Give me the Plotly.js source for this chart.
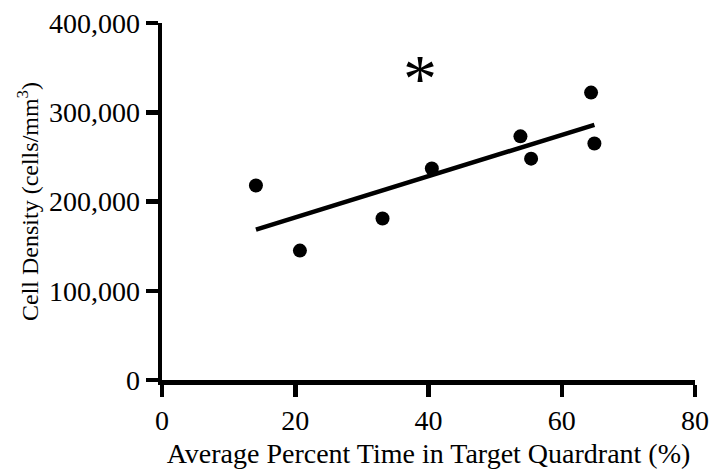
<!DOCTYPE html>
<html>
<head>
<meta charset="utf-8">
<script src="https://cdn.plot.ly/plotly-3.0.1.min.js"></script>
<style>
  html, body { margin: 0; padding: 0; background: #fff; }
  #chart { width: 711px; height: 473px; }
</style>
</head>
<body>
<div id="chart"></div>
<script>
// Percent time in target quadrant vs. cell density, one point per animal
const timeInQuadrant = [14.1, 20.7, 33.1, 40.5, 53.8, 55.4, 64.4, 64.9];
const cellDensity = [218000, 145000, 181000, 237000, 273000, 248000, 322000, 265000];
const xTicks = [0, 20, 40, 60, 80];
const yTicks = [0, 100000, 200000, 300000, 400000];

// Least-squares fit drawn across the observed x range
function linearFit(xs, ys) {
  const n = xs.length;
  const mx = xs.reduce((a, b) => a + b, 0) / n;
  const my = ys.reduce((a, b) => a + b, 0) / n;
  let sxy = 0, sxx = 0;
  for (let i = 0; i < n; i++) {
    sxy += (xs[i] - mx) * (ys[i] - my);
    sxx += (xs[i] - mx) * (xs[i] - mx);
  }
  const slope = sxy / sxx;
  return { slope, intercept: my - slope * mx };
}
const fit = linearFit(timeInQuadrant, cellDensity);
const fitX = [Math.min(...timeInQuadrant), Math.max(...timeInQuadrant)];
const fitY = fitX.map(v => fit.intercept + fit.slope * v);

const serif = 'Liberation Serif, Times New Roman, serif';

const traces = [
  {
    x: fitX, y: fitY, type: 'scatter', mode: 'lines',
    line: { color: '#000', width: 4.5 }, hoverinfo: 'skip'
  },
  {
    x: timeInQuadrant, y: cellDensity, type: 'scatter', mode: 'markers',
    marker: { color: '#000', size: 14, line: { width: 0 } }
  }
];

const layout = {
  width: 711, height: 473,
  margin: { l: 162, r: 16, t: 23, b: 93 },
  paper_bgcolor: '#fff', plot_bgcolor: '#fff',
  showlegend: false,
  font: { family: serif, color: '#000', size: 28 },
  xaxis: {
    range: [0, 80], tickvals: xTicks, ticktext: xTicks.map(String),
    showgrid: false, zeroline: false,
    showline: true, linecolor: '#000', linewidth: 4.5,
    ticks: 'outside', ticklen: 12, tickwidth: 4.5, tickcolor: '#000',
    tickfont: { family: serif, size: 28 },
    title: { text: 'Average Percent Time in Target Quardrant (%)', font: { family: serif, size: 28 }, standoff: 10 }
  },
  yaxis: {
    range: [0, 400000], tickvals: yTicks, tickformat: ',d',
    showgrid: false, zeroline: false,
    showline: true, linecolor: '#000', linewidth: 4.5,
    ticks: 'outside', ticklen: 12, tickwidth: 4.5, tickcolor: '#000',
    tickfont: { family: serif, size: 28 },
    title: { text: 'Cell Density (cells/mm<sup>3</sup>)', font: { family: serif, size: 24 }, standoff: 5 }
  },
  annotations: [
    {
      x: 38.7, y: 347000, xref: 'x', yref: 'y',
      text: '*', showarrow: false,
      font: { family: serif, size: 68, color: '#000' },
      yshift: -8
    }
  ]
};

Plotly.newPlot('chart', traces, layout, { displayModeBar: false, staticPlot: true });
</script>
</body>
</html>
